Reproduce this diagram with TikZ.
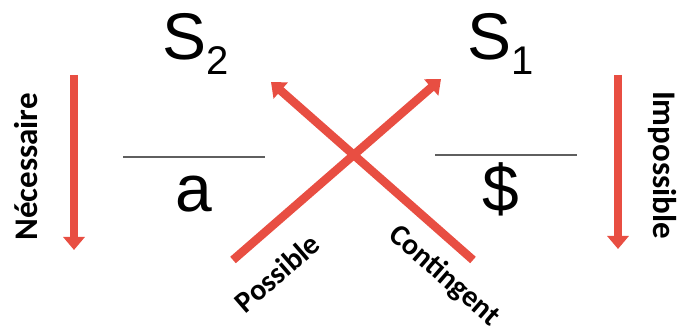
\documentclass[tikz,border=0pt]{standalone}
\usepackage{fontspec}
\setmainfont{Liberation Sans}
\newfontfamily\lblfont{Carlito}
\usetikzlibrary{arrows.meta}
\definecolor{arrowred}{RGB}{232,78,66}
\definecolor{linegray}{RGB}{95,95,95}
\tikzset{
  redarrow/.style={draw=arrowred, line width=8.5pt, -{Triangle[width=21pt,length=13pt]}},
  bar/.style={draw=linegray, line width=2.6pt},
  bigtext/.style={inner sep=0pt, font=\fontsize{66}{66}\selectfont},
  lbl/.style={inner sep=0pt, font=\lblfont\bfseries\fontsize{33}{33}\selectfont},
  dlbl/.style={inner sep=0pt, font=\lblfont\bfseries\fontsize{30}{30}\selectfont}
}
\begin{document}
\begin{tikzpicture}[x=1pt,y=-1pt]
\useasboundingbox (0,0) rectangle (680,336);
% titles
\node[bigtext, anchor=base west] (s2) at (162,60) {S\raisebox{-15pt}{\fontsize{40}{40}\selectfont 2}};
\node[bigtext, anchor=base west] (s1) at (467,60) {S\raisebox{-15pt}{\fontsize{40}{40}\selectfont 1}};
% bars and letters
\coordinate (l1) at (123,157);
\coordinate (l2) at (265,157);
\coordinate (r1) at (435,155);
\coordinate (r2) at (577,155);
\draw[bar] (l1) -- (l2);
\draw[bar] (r1) -- (r2);
\node[bigtext, anchor=base] (a) at (194,212) {a};
\node[bigtext, anchor=base] (dollar) at (501,212) {\$};
% vertical arrows
\coordinate (lt) at (74,75);
\coordinate (lb) at (74,250);
\coordinate (rt) at (618,75);
\coordinate (rb) at (618,249);
\draw[redarrow] (lt) -- (lb);
\draw[redarrow] (rt) -- (rb);
\node[lbl, rotate=90] (nec) at (26,167) {Nécessaire};
\node[lbl, rotate=-90] (imp) at (662,165) {Impossible};
% crossing arrows
\coordinate (pb) at (233,260);
\coordinate (pt) at (441,79);
\coordinate (cb) at (473,260);
\coordinate (ct) at (271,82);
\draw[redarrow] (cb) -- (ct);
\draw[redarrow] (pb) -- (pt);
\node[dlbl, rotate=41] (pos) at (277,273) {Possible};
\node[dlbl, rotate=-41] (cont) at (444,276) {Contingent};
\end{tikzpicture}
\end{document}
